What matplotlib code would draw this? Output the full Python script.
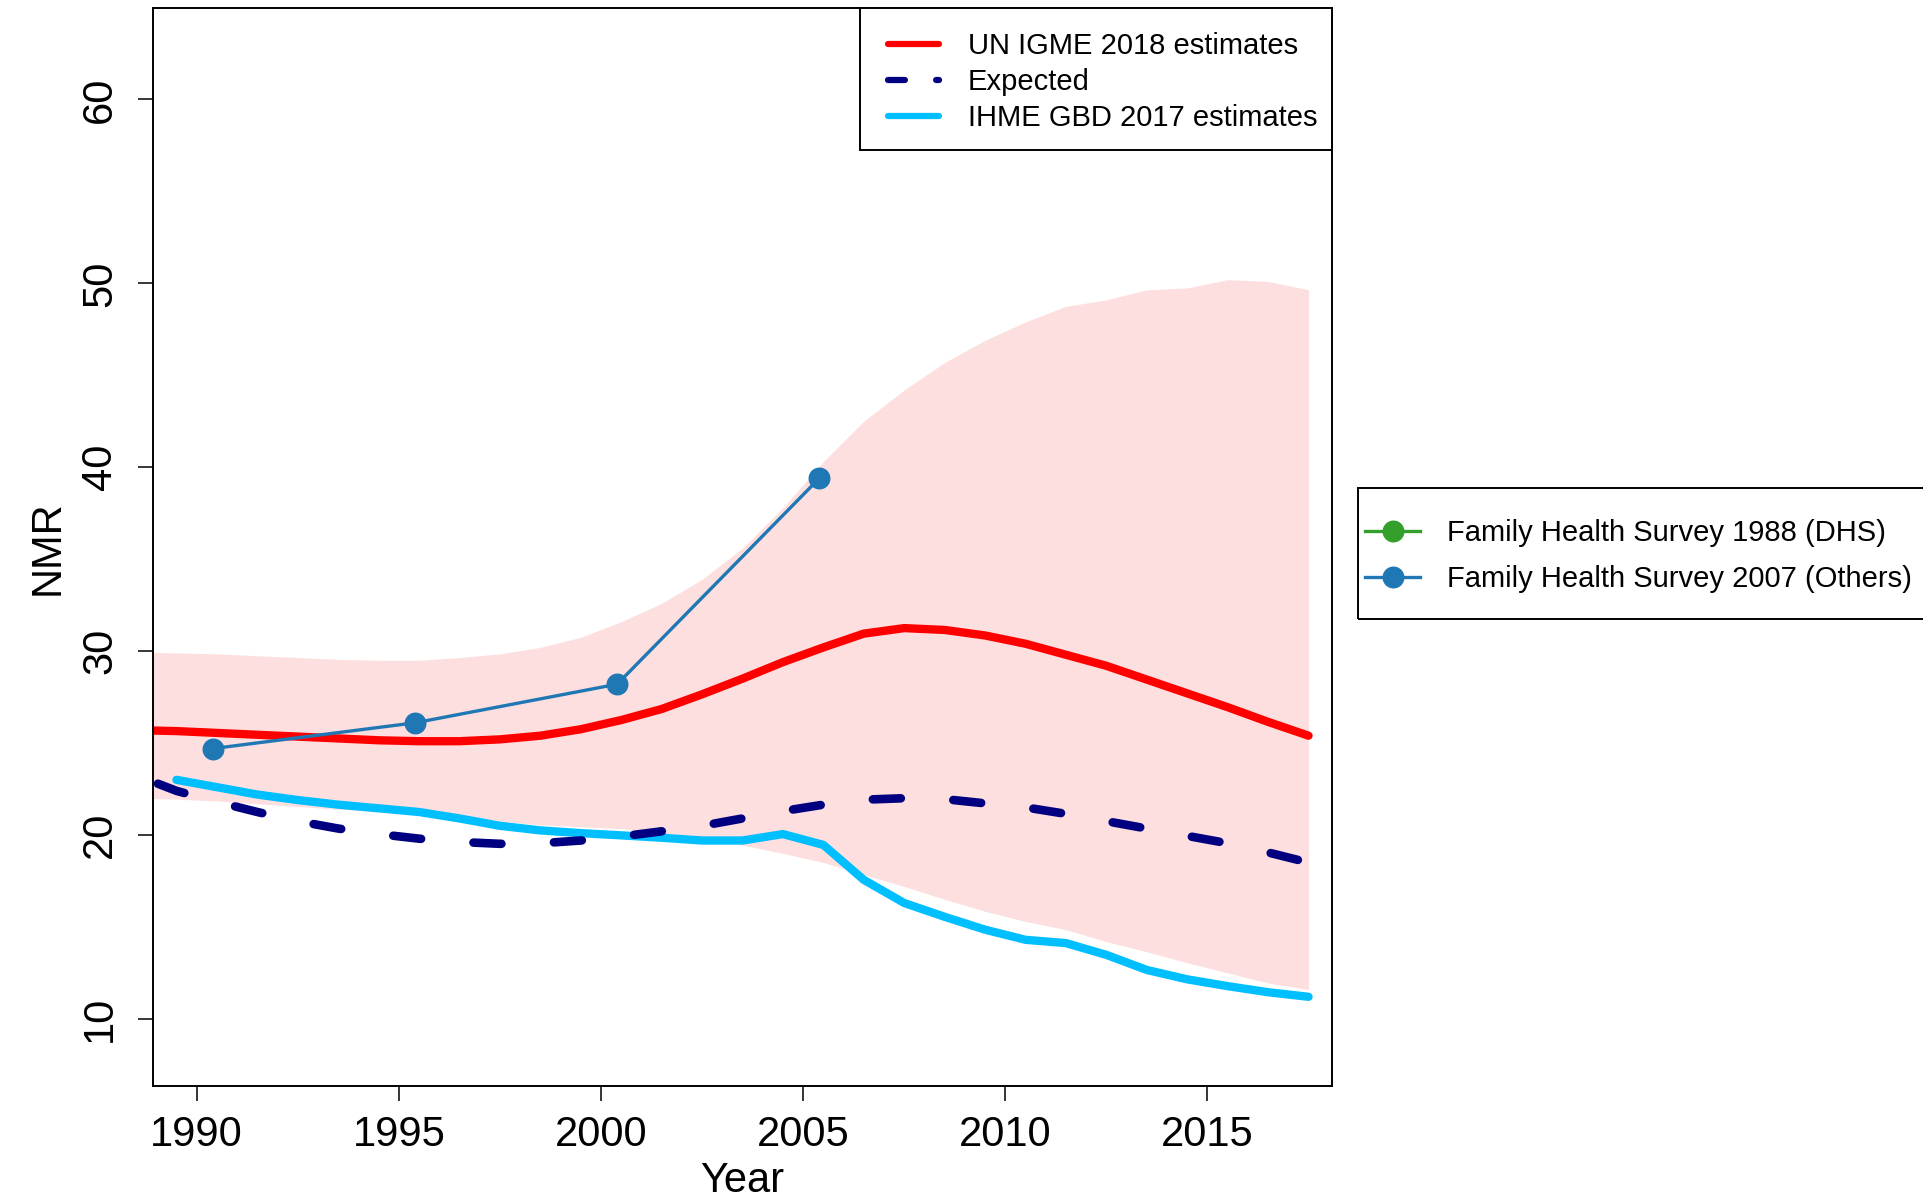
import numpy as np
import matplotlib.pyplot as plt
from matplotlib.lines import Line2D
from matplotlib.patches import Rectangle

plt.rcParams['font.family'] = ['Liberation Sans', 'DejaVu Sans']

# mid-year positions
years = np.arange(1988.5, 2018.0, 1.0)

igme = [25.7, 25.65, 25.55, 25.45, 25.35, 25.25, 25.15, 25.1, 25.1, 25.2,
        25.4, 25.75, 26.25, 26.85, 27.65, 28.5, 29.4, 30.2, 30.95, 31.25,
        31.15, 30.85, 30.4, 29.8, 29.2, 28.45, 27.7, 26.95, 26.15, 25.4]
igme_upper = [29.95, 29.9, 29.85, 29.75, 29.65, 29.55, 29.5, 29.5, 29.65, 29.85,
              30.2, 30.75, 31.6, 32.6, 33.9, 35.6, 37.8, 40.3, 42.5, 44.2,
              45.7, 46.9, 47.9, 48.75, 49.1, 49.65, 49.75, 50.2, 50.1, 49.65]
igme_lower = [22.0, 21.95, 21.85, 21.7, 21.55, 21.4, 21.3, 21.2, 21.0, 20.75,
              20.55, 20.45, 20.35, 20.1, 19.8, 19.45, 19.0, 18.5, 17.85, 17.2,
              16.5, 15.85, 15.3, 14.85, 14.2, 13.65, 13.05, 12.5, 11.95, 11.6]
expected = [23.25, 22.4, 21.8, 21.25, 20.75, 20.35, 20.05, 19.8, 19.62, 19.52,
            19.55, 19.7, 19.92, 20.2, 20.5, 20.9, 21.3, 21.65, 21.92, 22.0,
            21.95, 21.72, 21.5, 21.15, 20.75, 20.35, 19.95, 19.55, 19.05, 18.5]

ihme_years = np.arange(1989.5, 2018.0, 1.0)
ihme = [23.0, 22.6, 22.2, 21.9, 21.65, 21.45, 21.25, 20.9, 20.5, 20.25,
        20.1, 19.98, 19.85, 19.7, 19.7, 20.05, 19.46, 17.56, 16.3, 15.55,
        14.85, 14.3, 14.12, 13.48, 12.66, 12.15, 11.78, 11.45, 11.2]

fhs_years = [1990.4, 1995.4, 2000.4, 2005.4]
fhs_nmr = [24.7, 26.1, 28.2, 39.4]

xticks = [1990, 1995, 2000, 2005, 2010, 2015]
yticks = [10, 20, 30, 40, 50, 60]

fig = plt.figure(figsize=(19.23, 12.01), dpi=100)
ax = fig.add_axes([153 / 1923, 1 - 1086 / 1201, 1179 / 1923, 1077.6 / 1201])

ax.fill_between(years, igme_lower, igme_upper, color='#fddfdf', lw=0)
ax.plot(years, igme, color='red', lw=6.0, solid_capstyle='round')
ax.plot(ihme_years, ihme, color='deepskyblue', lw=6.0, solid_capstyle='round')
ax.plot(years, expected, color='navy', lw=6.2, linestyle=(6.62, (3.25, 6.1)),
        dash_capstyle='round')
ax.plot(fhs_years, fhs_nmr, color='#1f78b4', lw=2.4, marker='o', ms=14.8)

ax.set_xlim(1988.92, 2018.08)
ax.set_ylim(6.35, 64.95)
ax.set_xticks(xticks)
ax.set_yticks(yticks)
ax.tick_params(labelsize=30, length=10.8, width=1.1)
ax.tick_params(axis='x', pad=10)
ax.tick_params(axis='y', pad=13)
for lab in ax.get_yticklabels():
    lab.set_rotation(90)
    lab.set_va('center')
for s in ax.spines.values():
    s.set_linewidth(1.4)

ax.set_xlabel('Year', fontsize=30, labelpad=4.5)
ax.set_ylabel('NMR', fontsize=30, labelpad=9)

# top legend: frame drawn separately so the padding can match
fig.patches.append(Rectangle((860 / 1923, 1 - 150 / 1201), 472 / 1923, 142 / 1201,
                             transform=fig.transFigure, facecolor='white',
                             edgecolor='black', lw=1.4, zorder=3))
h1 = [Line2D([], [], color='red', lw=4.5, solid_capstyle='round'),
      Line2D([], [], color='navy', lw=4.5, linestyle=(0, (2.7, 5.0)),
             dash_capstyle='round'),
      Line2D([], [], color='deepskyblue', lw=4.5, solid_capstyle='round')]
leg = fig.legend(h1, ['UN IGME 2018 estimates', 'Expected', 'IHME GBD 2017 estimates'],
                 loc='center left', bbox_to_anchor=(888 / 1923, 1 - 82 / 1201),
                 borderaxespad=0, borderpad=0, fontsize=21, frameon=False,
                 handlelength=1.74, handletextpad=1.0, labelspacing=0.28)
leg.set_zorder(4)

h2 = [Line2D([], [], color='#33a02c', lw=2.4, marker='o', ms=14.8),
      Line2D([], [], color='#1f78b4', lw=2.4, marker='o', ms=14.8)]
fig.patches.append(Rectangle((1358 / 1923, 1 - 619 / 1201), 600 / 1923, 131 / 1201,
                             transform=fig.transFigure, fill=False,
                             edgecolor='black', lw=1.4))
fig.legend(h2, ['Family Health Survey 1988 (DHS)', 'Family Health Survey 2007 (Others)'],
           loc='center left', bbox_to_anchor=(1358 / 1923, 1 - 556 / 1201),
           fontsize=21, frameon=False, borderpad=0.25, borderaxespad=0,
           handlelength=1.88, handletextpad=0.91, labelspacing=0.63)

fig.savefig('out.png', dpi=100)
